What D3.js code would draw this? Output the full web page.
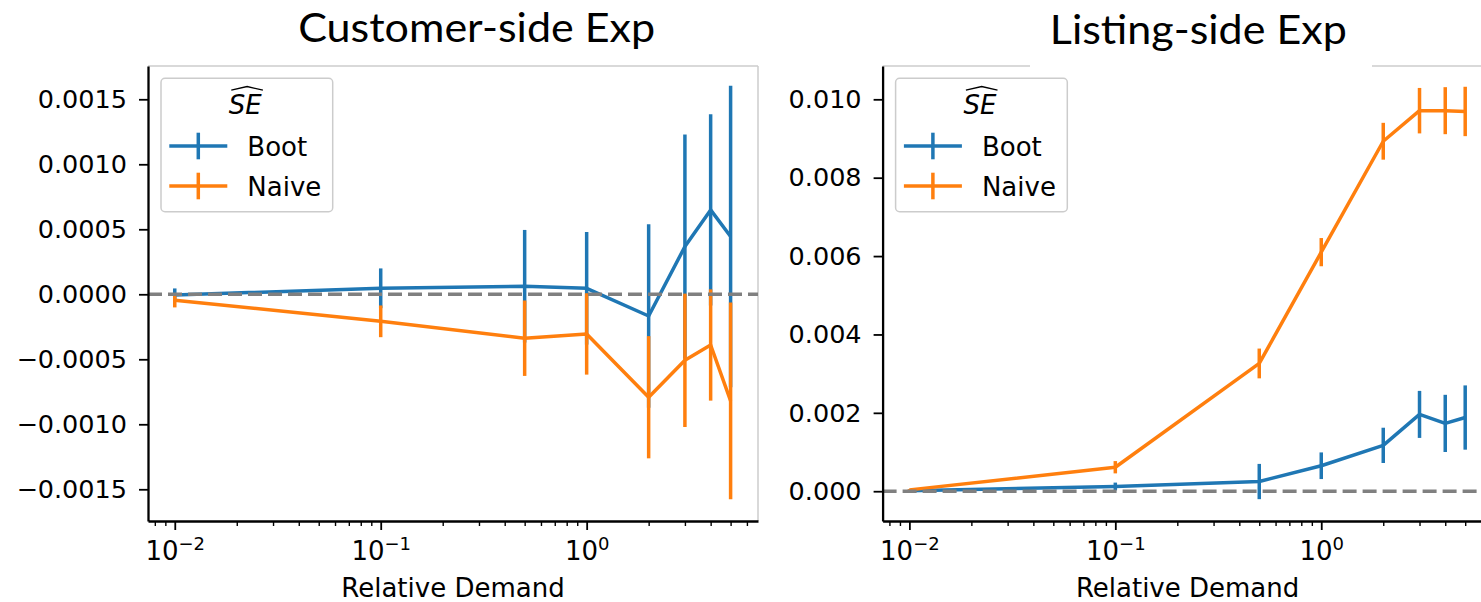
<!DOCTYPE html>
<html>
<head>
<meta charset="utf-8">
<script src="https://cdn.jsdelivr.net/npm/d3@7"></script>
<style>
body { margin: 0; background: #fff; }
text { font-family: "DejaVu Sans", sans-serif; fill: #000; }
</style>
</head>
<body>
<div id="chart"></div>
<script>
const width = 1481
const height = 602

// relative demand levels (x) shared by both experiments
const demand = [0.01, 0.1, 0.5, 1, 2, 3, 4, 5]

// customer-side experiment
const custBoot = [-0.000005, 0.000046, 0.000062, 0.000046, -0.000167, 0.000367, 0.000649, 0.000444]
const custBootErr = [0.00005, 0.000153, 0.000433, 0.000433, 0.000705, 0.000862, 0.000736, 0.00116]
const custNaive = [-0.000046, -0.000208, -0.000338, -0.000305, -0.000792, -0.000508, -0.00039, -0.00082]
const custNaiveErr = [0.000055, 0.000122, 0.00029, 0.000313, 0.00047, 0.000513, 0.000428, 0.000756]

// listing-side experiment
const listBoot = [0.00001, 0.00012, 0.000247, 0.00065, 0.00117, 0.00196, 0.00173, 0.00188]
const listBootErr = [0.00002, 0.0001, 0.00045, 0.00034, 0.00045, 0.0006, 0.00073, 0.00082]
const listNaive = [0.000034, 0.000612, 0.00326, 0.0061, 0.00893, 0.00971, 0.00971, 0.00969]
const listNaiveErr = [0.00002, 0.000157, 0.00038, 0.00036, 0.00047, 0.00058, 0.0006, 0.00063]

// ticks
const custTicks = [-0.0015, -0.001, -0.0005, 0, 0.0005, 0.001, 0.0015]
const listTicks = [0, 0.002, 0.004, 0.006, 0.008, 0.01]
const xTicks = [0.01, 0.1, 1]
const xTickExp = ["\u22122", "\u22121", "0"]

const legendNames = ["Boot", "Naive"]
const blue = "#1f77b4"
const orange = "#ff7f0e"

const svg = d3.select("#chart").append("svg").attr("width", width).attr("height", height)

const axTop = 66
const axBottom = 521
const panelW = 610
const xDomain = [Math.pow(10, -2.13), Math.pow(10, 0.832)]

// minor log ticks inside the x domain
const minorTicks = []
for (let k = -3; k <= 0; k++) {
    for (let m = 2; m <= 9; m++) {
        const v = m * Math.pow(10, k)
        if (v > xDomain[0] && v < xDomain[1]) minorTicks.push(v)
    }
}

const panels = [
    {
        title: "Customer-side Exp", titleX: 476.7, titleY: 42, titleLen: 357, titleBox: false,
        left: 148, yDomain: [-0.001744, 0.001756], yTicks: custTicks, fmt: d3.format(".4f"),
        boot: custBoot, bootErr: custBootErr, naive: custNaive, naiveErr: custNaiveErr
    },
    {
        title: "Listing-side Exp", titleX: 1198.3, titleY: 44.3, titleLen: 297, titleBox: true,
        left: 882.6, yDomain: [-0.00076, 0.01085], yTicks: listTicks, fmt: d3.format(".3f"),
        boot: listBoot, bootErr: listBootErr, naive: listNaive, naiveErr: listNaiveErr
    }
]

panels.forEach(p => drawPanel(p))

function drawPanel(p) {
    const x = d3.scaleLog().domain(xDomain).range([p.left, p.left + panelW])
    const y = d3.scaleLinear().domain(p.yDomain).range([axBottom, axTop])
    const g = svg.append("g")

    // light frame on top / right
    g.append("line")
        .attr("x1", p.left).attr("x2", p.left + panelW)
        .attr("y1", axTop).attr("y2", axTop)
        .attr("stroke", "#cccccc").attr("stroke-width", 1.5)
    g.append("line")
        .attr("x1", p.left + panelW).attr("x2", p.left + panelW)
        .attr("y1", axTop).attr("y2", axBottom)
        .attr("stroke", "#cccccc").attr("stroke-width", 1.5)

    // series: line + vertical error bars
    const series = [
        { vals: p.boot, err: p.bootErr, color: blue },
        { vals: p.naive, err: p.naiveErr, color: orange }
    ]
    const line = d3.line().x(d => x(d[0])).y(d => y(d[1]))
    series.forEach(s => {
        const pts = demand.map((d, i) => [d, s.vals[i], s.err[i]])
        g.append("path")
            .datum(pts)
            .attr("d", line)
            .attr("fill", "none")
            .attr("stroke", s.color)
            .attr("stroke-width", 3.5)
            .attr("stroke-linejoin", "round")
        g.selectAll(null).data(pts).join("line")
            .attr("x1", d => x(d[0])).attr("x2", d => x(d[0]))
            .attr("y1", d => y(d[1] - d[2])).attr("y2", d => y(d[1] + d[2]))
            .attr("stroke", s.color)
            .attr("stroke-width", 3.5)
    })

    // zero reference
    g.append("line")
        .attr("x1", p.left).attr("x2", p.left + panelW)
        .attr("y1", y(0)).attr("y2", y(0))
        .attr("stroke", "#808080").attr("stroke-width", 3.5)
        .attr("stroke-dasharray", "14,6")

    // y axis
    const yAxis = g.append("g")
        .attr("transform", `translate(${p.left},0)`)
        .call(d3.axisLeft(y).tickValues(p.yTicks).tickFormat(p.fmt).tickSize(9).tickPadding(12).tickSizeOuter(0))
    yAxis.select(".domain").attr("stroke", "#000").attr("stroke-width", 2.3)
    yAxis.selectAll(".tick line").attr("stroke", "#000").attr("stroke-width", 1.8)
    yAxis.selectAll(".tick text").attr("font-size", 25.5).attr("font-family", "DejaVu Sans")

    // x axis, minor then major
    const xMinor = g.append("g")
        .attr("transform", `translate(0,${axBottom})`)
        .call(d3.axisBottom(x).tickValues(minorTicks).tickFormat("").tickSize(5).tickSizeOuter(0))
    xMinor.select(".domain").remove()
    xMinor.selectAll(".tick line").attr("stroke", "#000").attr("stroke-width", 1.4)

    const xAxis = g.append("g")
        .attr("transform", `translate(0,${axBottom})`)
        .call(d3.axisBottom(x).tickValues(xTicks).tickFormat("").tickSize(9).tickSizeOuter(0))
    xAxis.select(".domain").attr("stroke", "#000").attr("stroke-width", 2.3)
    xAxis.selectAll(".tick line").attr("stroke", "#000").attr("stroke-width", 1.8)
    xAxis.selectAll(".tick text").remove()
    xAxis.selectAll(".tick").each(function(d, i) {
        const t = d3.select(this).append("text")
            .attr("text-anchor", "middle")
            .attr("y", 39)
            .attr("font-size", 26)
        t.append("tspan").text("10")
        t.append("tspan").attr("dy", -10).attr("font-size", 18).text(xTickExp[i])
    })

    // axis label
    g.append("text")
        .attr("x", p.left + panelW / 2)
        .attr("y", 597)
        .attr("text-anchor", "middle")
        .attr("font-size", 26)
        .text("Relative Demand")

    // legend
    const lx = p.left + 13
    const ly = 78.3
    const leg = g.append("g").attr("transform", `translate(${lx},${ly})`)
    leg.append("rect")
        .attr("width", 171.7).attr("height", 133.4)
        .attr("rx", 4)
        .attr("fill", "#fff").attr("fill-opacity", 0.8)
        .attr("stroke", "#cccccc").attr("stroke-width", 1.5)
    const cx = 84.3
    leg.append("text")
        .attr("x", cx).attr("y", 36)
        .attr("text-anchor", "middle")
        .attr("font-size", 26)
        .attr("font-style", "italic")
        .text("SE")
    leg.append("path")
        .attr("d", `M${cx - 14},11.9 L${cx + 1.8},8.2 L${cx + 17.6},11.9`)
        .attr("fill", "none").attr("stroke", "#000").attr("stroke-width", 1.3)
    const entries = legendNames.map((n, i) => ({ name: n, color: i === 0 ? blue : orange, y: 67.7 + i * 40 }))
    const items = leg.selectAll(".item").data(entries).join("g").attr("class", "item")
    items.append("line")
        .attr("x1", 8.3).attr("x2", 66.3)
        .attr("y1", d => d.y).attr("y2", d => d.y)
        .attr("stroke", d => d.color).attr("stroke-width", 3.5)
    items.append("line")
        .attr("x1", 37.3).attr("x2", 37.3)
        .attr("y1", d => d.y - 13.3).attr("y2", d => d.y + 13.3)
        .attr("stroke", d => d.color).attr("stroke-width", 3.5)
    items.append("text")
        .attr("x", 86.3)
        .attr("y", d => d.y + 9.7)
        .attr("font-size", 26)
        .text(d => d.name)

    // panel title
    if (p.titleBox) {
        svg.append("rect")
            .attr("x", 1030).attr("y", 0)
            .attr("width", 342).attr("height", 67.5)
            .attr("fill", "#fff")
    }
    svg.append("text")
        .attr("x", p.titleX)
        .attr("y", p.titleY)
        .attr("text-anchor", "middle")
        .attr("font-size", 40)
        .attr("textLength", p.titleLen)
        .attr("lengthAdjust", "spacingAndGlyphs")
        .style("font-family", "Lato, 'Open Sans', sans-serif")
        .text(p.title)
}
</script>
</body>
</html>
